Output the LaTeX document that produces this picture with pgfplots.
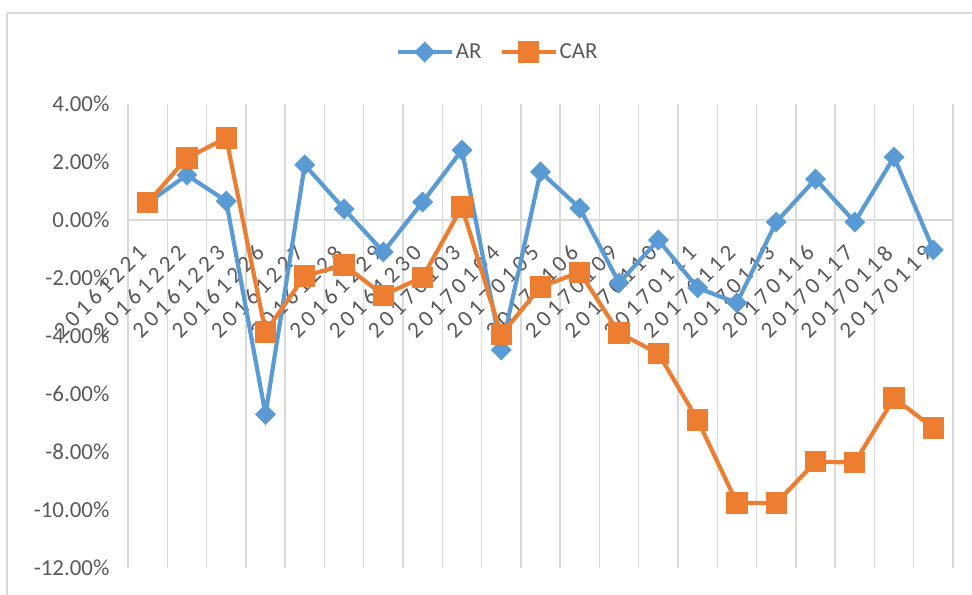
\documentclass[border=0pt]{standalone}
\usepackage{pgfplots}
\pgfplotsset{compat=1.18}
\usepackage{fontspec}
\setmainfont{Carlito}
\newfontfamily\datefont[LetterSpace=17]{Carlito}
\definecolor{arblue}{HTML}{5B9BD5}
\definecolor{carorange}{HTML}{ED7D31}
\definecolor{gridgray}{HTML}{D9D9D9}
\definecolor{labelgray}{HTML}{595959}
\begin{document}
\begin{tikzpicture}
\useasboundingbox (0,0) rectangle (972bp,595bp);
% chart frame
\draw[gridgray, line width=1.5bp] (7bp,0) -- (7bp,582bp) -- (972bp,582bp);
\begin{axis}[
  at={(128bp,27bp)}, anchor=south west,
  scale only axis, width=825bp, height=464bp,
  xmin=-0.5, xmax=20.5, ymin=-12, ymax=4,
  axis x line=middle, axis y line=left,
  x axis line style={gridgray, line width=1.5bp, -},
  y axis line style={draw=none},
  xtick={0,...,20},
  xticklabels={20161221,20161222,20161223,20161226,20161227,20161228,20161229,20161230,20170103,20170104,20170105,20170106,20170109,20170110,20170111,20170112,20170113,20170116,20170117,20170118,20170119},
  minor xtick={-0.5,0.5,...,20.5},
  xminorgrids,
  minor grid style={gridgray, line width=1.5bp},
  major tick length=0pt, minor tick length=0pt,
  ytick={-12,-10,...,4},
  yticklabels={-12.00\%,-10.00\%,-8.00\%,-6.00\%,-4.00\%,-2.00\%,0.00\%,2.00\%,4.00\%},
  tick label style={font=\fontsize{23}{26}\selectfont, text=labelgray},
  xticklabel style={font=\datefont\fontsize{23}{26}\selectfont, rotate=45, anchor=east, xshift=-21bp, yshift=-17bp},
  yticklabel style={xshift=-15bp},
  legend style={at={(0.448,1.112)}, anchor=center, draw=none, fill=none,
    legend columns=2, font=\fontsize{23}{26}\selectfont, text=labelgray,
    /tikz/every even column/.append style={column sep=16bp}},
  legend image code/.code={\draw[#1, mark repeat=2, mark phase=2] plot coordinates {(0bp,0bp) (27bp,0bp) (54bp,0bp)};},
  clip=false,
]
\addplot[arblue, line width=4.2bp, mark=square*, mark size=5.3bp, mark options={rotate=45}]
  coordinates {(0,0.59) (1,1.55) (2,0.65) (3,-6.70) (4,1.90) (5,0.38) (6,-1.10) (7,0.62) (8,2.41) (9,-4.48) (10,1.66) (11,0.41) (12,-2.17) (13,-0.69) (14,-2.34) (15,-2.86) (16,-0.07) (17,1.41) (18,-0.07) (19,2.17) (20,-1.03)};
\addlegendentry{AR}
\addplot[carorange, line width=4.2bp, mark=square*, mark size=8.5bp]
  coordinates {(0,0.59) (1,2.14) (2,2.83) (3,-3.86) (4,-1.93) (5,-1.55) (6,-2.59) (7,-1.97) (8,0.45) (9,-3.95) (10,-2.31) (11,-1.80) (12,-3.90) (13,-4.60) (14,-6.90) (15,-9.76) (16,-9.76) (17,-8.34) (18,-8.36) (19,-6.14) (20,-7.17)};
\addlegendentry{CAR}
\end{axis}
\end{tikzpicture}
\end{document}
